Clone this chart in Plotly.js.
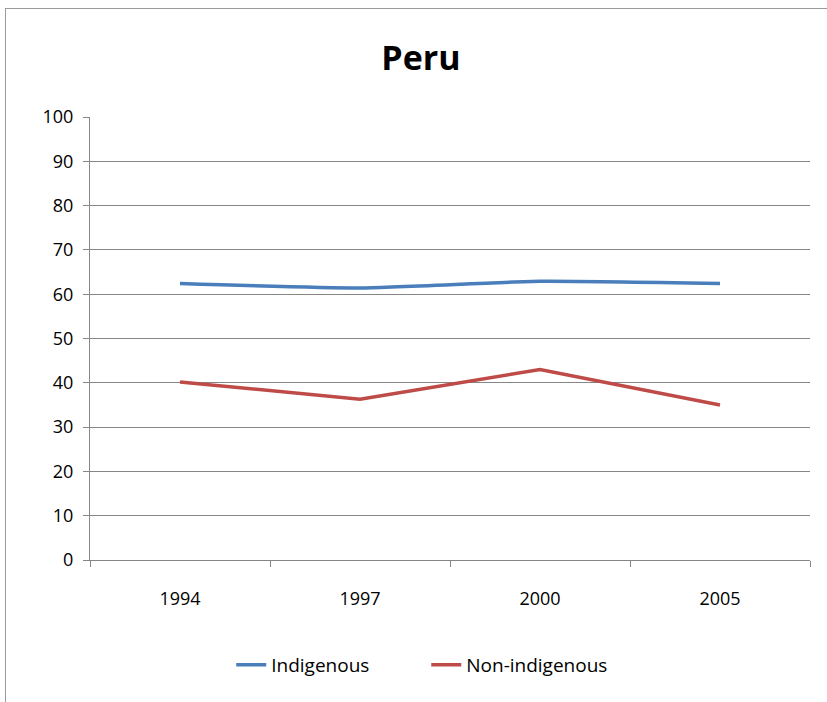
<!DOCTYPE html>
<html>
<head>
<meta charset="utf-8">
<script src="https://cdn.plot.ly/plotly-3.0.1.min.js"></script>
<style>
  html, body { margin: 0; padding: 0; background: #ffffff; }
  #frame { position: absolute; left: 5px; top: 8px; width: 830px; height: 700px; border-left: 1px solid #9a9a9a; border-top: 1px solid #9a9a9a; }
  #chart { position: absolute; left: 0; top: 0; width: 827px; height: 702px; }
</style>
</head>
<body>
<div id="frame"></div>
<div id="chart"></div>
<script>
const years = ['1994', '1997', '2000', '2005'];
const indigenous = [62.4, 61.4, 62.9, 62.4];
const nonIndigenous = [40.2, 36.3, 43.0, 35.0];
const yTicks = [0, 10, 20, 30, 40, 50, 60, 70, 80, 90, 100];

const FONT = '"Open Sans", "DejaVu Sans", sans-serif';

const traces = [
  { x: years, y: indigenous, name: 'Indigenous', type: 'scatter', mode: 'lines',
    line: { color: '#4A7EBB', width: 3.5, shape: 'spline', smoothing: 0.5 } },
  { x: years, y: nonIndigenous, name: 'Non-indigenous', type: 'scatter', mode: 'lines',
    line: { color: '#BE4B48', width: 3.5 } }
];

const layout = {
  width: 827, height: 702,
  paper_bgcolor: 'rgba(0,0,0,0)', plot_bgcolor: 'rgba(0,0,0,0)',
  margin: { l: 90, r: 17, t: 117, b: 142 },
  font: { family: FONT, color: '#000000', size: 18 },
  title: { text: '<b>Peru</b>', font: { family: FONT, size: 34, color: '#000' }, x: 0.509, xanchor: 'center', y: 0.917, yanchor: 'middle' },
  xaxis: {
    type: 'category', range: [-0.5, years.length - 0.5], tickson: 'boundaries', ticks: 'outside', ticklen: 6, tickcolor: '#868686',
    showline: true, linecolor: '#868686', linewidth: 1, showgrid: false, zeroline: false,
    tickfont: { family: FONT, size: 18 }, ticklabelstandoff: 22
  },
  yaxis: {
    range: [0, 100], tickvals: yTicks, ticktext: yTicks.map(String),
    ticks: 'outside', ticklen: 6, tickcolor: '#868686',
    showline: true, linecolor: '#868686', linewidth: 1,
    showgrid: true, gridcolor: '#868686', gridwidth: 1, zeroline: false,
    tickfont: { family: FONT, size: 18 }, ticklabelstandoff: 6
  },
  showlegend: true,
  legend: { orientation: 'h', x: 0.467, xanchor: 'center', y: -0.237, yanchor: 'middle',
    font: { family: FONT, size: 19 }, entrywidth: 150, entrywidthmode: 'pixels', bgcolor: 'rgba(0,0,0,0)' }
};

Plotly.newPlot('chart', traces, layout, { displayModeBar: false, staticPlot: true });
</script>
</body>
</html>
